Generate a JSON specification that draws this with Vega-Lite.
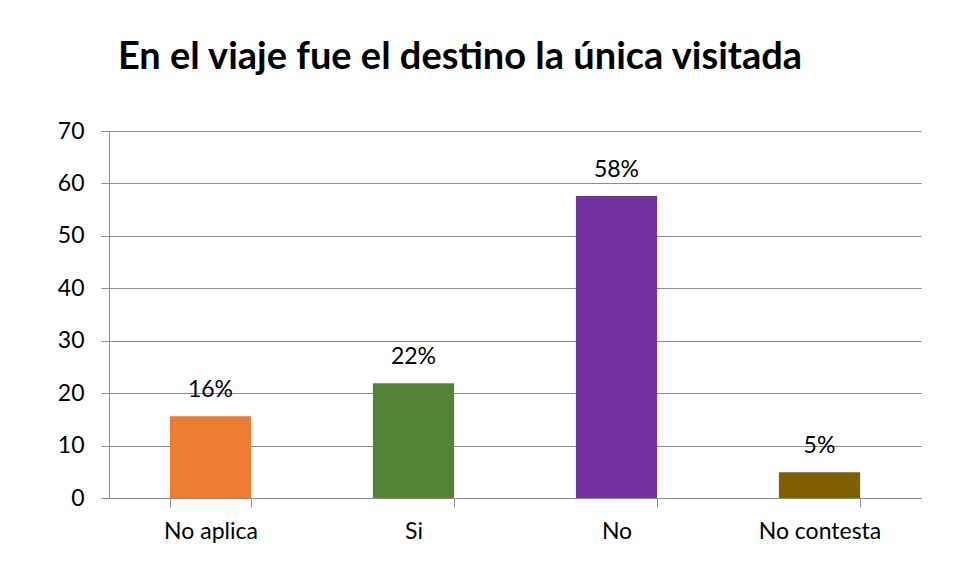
{
  "$schema": "https://vega.github.io/schema/vega-lite/v6.json",
  "width": 812,
  "height": 367,
  "autosize": "none",
  "padding": {"left": 109, "top": 131, "right": 32, "bottom": 83},
  "background": "white",
  "title": {
    "text": "En el viaje fue el destino la única visitada",
    "font": "Lato",
    "fontSize": 38,
    "fontWeight": "bold",
    "color": "#000000",
    "anchor": "middle",
    "frame": "group",
    "dx": -55,
    "offset": 43
  },
  "data": {
    "values": [
      {"categoria": "No aplica", "valor": 15.6, "etiqueta": "16%"},
      {"categoria": "Si", "valor": 21.9, "etiqueta": "22%"},
      {"categoria": "No", "valor": 57.6, "etiqueta": "58%"},
      {"categoria": "No contesta", "valor": 4.9, "etiqueta": "5%"}
    ]
  },
  "encoding": {
    "x": {
      "field": "categoria",
      "type": "nominal",
      "sort": null,
      "axis": {
        "title": null,
        "labelAngle": 0,
        "tickBand": "extent",
        "tickSize": 9,
        "labelPadding": 13,
        "labelFont": "Lato",
        "labelFontSize": 23,
        "labelColor": "#000000",
        "domainColor": "#8C8C8C",
        "tickColor": "#8C8C8C",
        "grid": false
      }
    },
    "y": {
      "field": "valor",
      "type": "quantitative",
      "scale": {"domain": [0, 70]},
      "axis": {
        "title": null,
        "values": [0, 10, 20, 30, 40, 50, 60, 70],
        "tickSize": 8,
        "labelPadding": 17,
        "labelFont": "Lato",
        "labelFontSize": 23,
        "labelColor": "#000000",
        "domainColor": "#8C8C8C",
        "tickColor": "#8C8C8C",
        "gridColor": "#8C8C8C",
        "grid": true
      }
    }
  },
  "layer": [
    {
      "mark": {"type": "bar"},
      "encoding": {
        "color": {
          "field": "categoria",
          "type": "nominal",
          "scale": {
            "domain": ["No aplica", "Si", "No", "No contesta"],
            "range": ["#ED7D31", "#548235", "#7030A0", "#7F6000"]
          },
          "legend": null
        }
      }
    },
    {
      "mark": {
        "type": "text",
        "baseline": "bottom",
        "dy": -14,
        "font": "Lato",
        "fontSize": 23,
        "color": "#000000"
      },
      "encoding": {"text": {"field": "etiqueta"}}
    }
  ],
  "config": {
    "view": {"stroke": null},
    "scale": {"bandPaddingInner": 0.6, "bandPaddingOuter": 0.3}
  }
}
